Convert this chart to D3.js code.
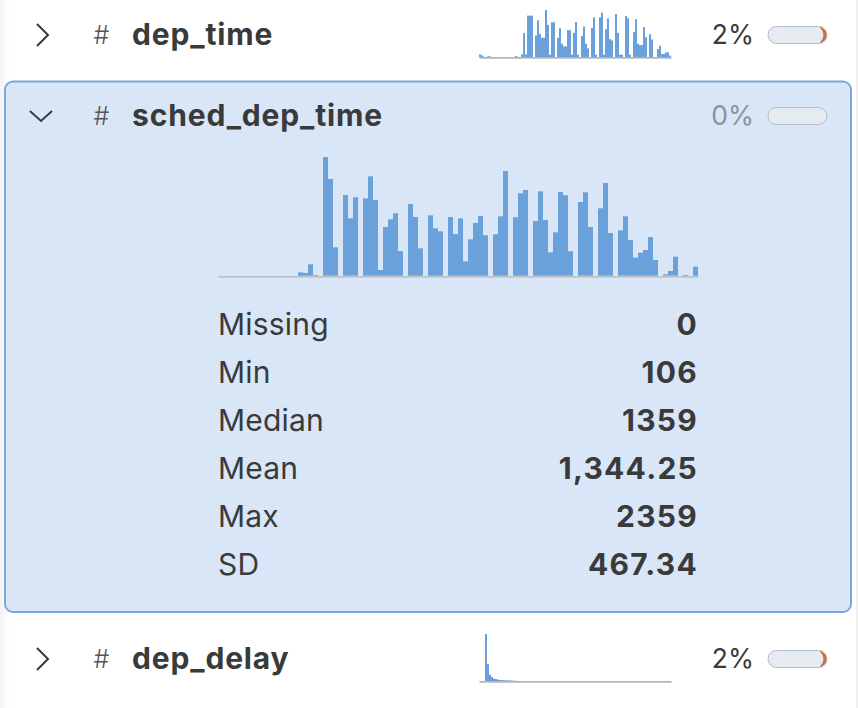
<!DOCTYPE html>
<html><head><meta charset="utf-8">
<script src="https://cdn.jsdelivr.net/npm/d3@7"></script>
<style>html,body{margin:0;padding:0;background:#fff;overflow:hidden}svg{display:block}text{font-family:Inter,"Liberation Sans",sans-serif}</style>
</head><body><div id="c"></div>
<script>
const schedBins=[0,0,0,0,0,0,0,0,0,0,0,0,0,0,0,0,11,9,35,3,0,357,291,86,0,243,173,236,0,233,299,228,18,147,170,188,75,0,216,177,83,0,182,143,134,0,177,126,173,44,110,159,180,122,0,125,179,315,0,176,248,258,0,165,254,168,71,131,252,242,74,0,222,251,147,0,203,279,129,0,137,179,108,55,70,78,117,48,0,5,15,58,0,3,0,28];
const depTimeBins=[8,5,1,0,2,2,0,0,0,0,0,0,0,0,0,0,0,0,3,1,0,8,72,8,125,125,125,0,65,111,70,58,58,142,97,7,105,105,0,58,87,40,32,32,81,81,7,73,106,7,0,63,92,40,26,0,88,120,7,0,120,134,7,84,117,54,50,0,130,73,7,7,0,124,117,7,0,75,114,40,36,36,90,60,0,69,53,0,0,24,34,9,9,14,14,4];
const depDelayBins=[0,0,0,142,51,19,12,7,6,4,3,3,2,2,2,2,1,1,1,0,0,0,0,0,0,0,0,0,0,0,0,0,0,0,0,0,0,0,0,0,0,0,0,0,0,0,0,0,0,0,0,0,0,0,0,0,0,0,0,0,0,0,0,0,0,0,0,0,0,0,0,0,0,0,0,0,0,0,0,0,0,0,0,0,0,0,0,0,0,0,0,0,0,0,0,0];
const statLabels=["Missing","Min","Median","Mean","Max","SD"];
const statValues=["0","106","1359","1,344.25","2359","467.34"];
const rowNames=["dep_time","sched_dep_time","dep_delay"];
const rowPercents=["2%","0%","2%"];
const rowMissing=[0.02,0,0.02];

const W=858,H=708;
const svg=d3.select("#c").append("svg").attr("width",W).attr("height",H);
const defs=svg.append("defs");
const grad=defs.append("linearGradient").attr("id","lg");
grad.append("stop").attr("offset","0").attr("stop-color","#f3f3f3");
grad.append("stop").attr("offset","1").attr("stop-color","#fff");
svg.append("rect").attr("width",10).attr("height",H).attr("fill","url(#lg)");
svg.append("rect").attr("x",856).attr("width",2).attr("height",H).attr("fill","#efefef");
svg.append("rect").attr("x",5).attr("y",81.5).attr("width",846).attr("height",530.5).attr("rx",8)
  .attr("fill","#d9e6f7").attr("stroke","#7ba6dc").attr("stroke-width",2);

function hist(values,x0,x1,yBase,yTop,foot,sw){
  const x=d3.scaleBand().domain(d3.range(values.length)).range([x0,x1]).padding(0);
  const y=d3.scaleLinear().domain([0,d3.max(values)]).range([yBase,yTop]);
  const g=svg.append("g");
  g.selectAll("rect.b").data(values.map((v,i)=>({v,i})).filter(d=>d.v>0)).join("rect").attr("class","b")
    .attr("x",d=>x(d.i)).attr("width",x.bandwidth()).attr("y",d=>y(d.v)).attr("height",d=>yBase-y(d.v)).attr("fill","#6aa1da");
  if(foot){
    g.selectAll("rect.f").data(values.map((v,i)=>({v,i})).filter(d=>d.v>0)).join("rect").attr("class","f")
      .attr("x",d=>x(d.i)).attr("width",x.bandwidth()).attr("y",yBase-1).attr("height",1).attr("fill","#fff").attr("opacity",.2);
  }
  const ax=d3.axisBottom(d3.scaleLinear().domain([0,1]).range([x0,x1])).tickValues([]).tickSizeOuter(0);
  const a=g.append("g").attr("transform",`translate(0,${yBase+0.4})`).call(ax);
  a.select(".domain").attr("stroke","#b4b4b4").attr("stroke-width",sw);
}
hist(depTimeBins,479,671,57,10,false,1.6);
hist(schedBins,218,698,276,157,true,1.4);
hist(depDelayBins,479,671,681,634,false,1.6);

const rowY=[35,116,659];
rowNames.forEach((name,i)=>{
  const y=rowY[i];
  if(i===1) svg.append("path").attr("d",`M30 ${y-5}L41 ${y+5}L52 ${y-5}`).attr("fill","none").attr("stroke","#3a3a3a").attr("stroke-width",2);
  else svg.append("path").attr("d",`M37 ${y-11}L48 ${y}L37 ${y+11}`).attr("fill","none").attr("stroke","#3a3a3a").attr("stroke-width",2);
  svg.append("text").attr("x",101.5).attr("y",y+9).attr("text-anchor","middle").attr("font-size",25).attr("font-weight",300).attr("fill","#555").text("#");
  svg.append("text").attr("x",132).attr("y",y+10).attr("font-size",30).attr("font-weight",700).attr("letter-spacing",.85).attr("fill","#3a3a3a").text(name);
  svg.append("text").attr("x",754).attr("y",y+9).attr("text-anchor","end").attr("font-size",26.5).attr("fill",i===1?"#8c939c":"#3a3a3a").text(rowPercents[i]);
  const pw=59,px=768,py=y-8.5,ph=17;
  const id="clip"+i;
  defs.append("clipPath").attr("id",id).append("rect").attr("x",px).attr("y",py).attr("width",pw).attr("height",ph).attr("rx",8.5);
  svg.append("rect").attr("x",px).attr("y",py).attr("width",pw).attr("height",ph).attr("rx",8.5).attr("fill","#e6ebf2");
  if(rowMissing[i]>0){
    const s=d3.scaleLinear().domain([0,1]).range([px+pw,px]);
    svg.append("rect").attr("clip-path",`url(#${id})`).attr("x",s(rowMissing[i])-6).attr("y",py).attr("width",7.2).attr("height",ph).attr("fill","#d9693f");
    svg.append("ellipse").attr("clip-path",`url(#${id})`).attr("cx",px+pw-14).attr("cy",y).attr("rx",10.5).attr("ry",9.5).attr("fill","#e6ebf2");
  }
  svg.append("rect").attr("x",px).attr("y",py).attr("width",pw).attr("height",ph).attr("rx",8.5).attr("fill","none").attr("stroke","#b5bcc7").attr("stroke-width",1);
});

const rowScale=d3.scalePoint().domain(statLabels).range([334.5,574.5]);
statLabels.forEach((l,i)=>{
  svg.append("text").attr("x",218).attr("y",rowScale(l)).attr("font-size",30).attr("letter-spacing",.2).attr("fill","#3a3a3a").text(l);
  svg.append("text").attr("x",698).attr("y",rowScale(l)).attr("text-anchor","end").attr("font-size",30).attr("font-weight",700).attr("letter-spacing",1.25).attr("fill","#3a3a3a").text(statValues[i]);
});
</script></body></html>
